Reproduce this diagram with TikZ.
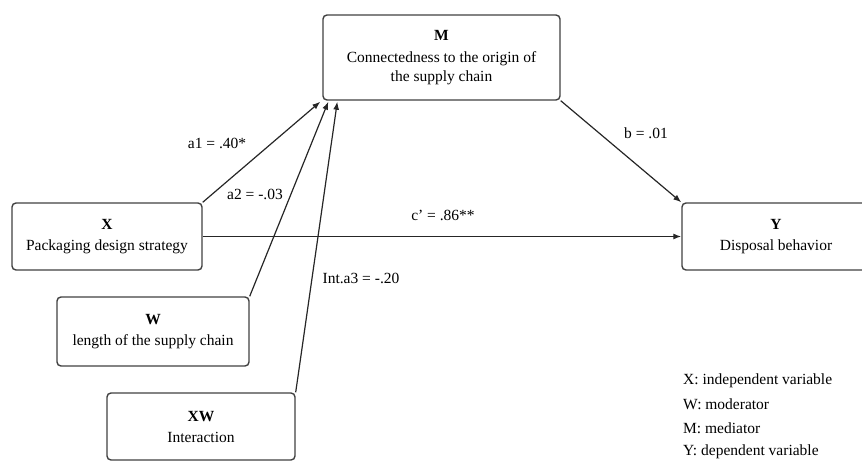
\documentclass[tikz,border=0pt]{standalone}
\usepackage{fontspec}
\setmainfont{Liberation Serif}
\usepackage{tikz}
\usetikzlibrary{arrows.meta,calc}

\tikzset{
  varbox/.style={draw=black!75, line width=1.4pt, rounded corners=4pt, align=center,
    inner sep=0pt, font=\fontsize{15.5}{19}\selectfont},
  effect/.style={draw=black!85, line width=1.2pt, -{Latex[length=8pt,width=6pt]}},
  coef/.style={inner sep=0pt, font=\fontsize{15.5}{18}\selectfont},
  legendtxt/.style={anchor=west, inner sep=0pt, font=\fontsize{15.5}{18}\selectfont}
}

\begin{document}
\begin{tikzpicture}[x=1pt,y=-1pt]

\useasboundingbox (0,0) rectangle (862,463);

  % Variables
  \node[varbox, minimum width=237pt, minimum height=85pt] (M) at (441.5,57.5)
    {\textbf{M}\\[3pt]Connectedness to the origin of\\the supply chain};
  \node[varbox, minimum width=190pt, minimum height=67pt] (X) at (107,236.5)
    {\textbf{X}\\[2pt]Packaging design strategy};
  \node[varbox, minimum width=188pt, minimum height=67pt] (Y) at (776,236.5)
    {\textbf{Y}\\[2pt]Disposal behavior};
  \node[varbox, minimum width=192pt, minimum height=69pt] (W) at (153,331.5)
    {\textbf{W}\\[2pt]length of the supply chain};
  \node[varbox, minimum width=188pt, minimum height=67pt] (XW) at (201,426.5)
    {\textbf{XW}\\[2pt]Interaction};

  % Arrow ends under M
  \coordinate (a1end) at ($(M.south west)+(-2,1)$);
  \coordinate (a2end) at ($(M.south west)+(6,1)$);
  \coordinate (a3end) at ($(M.south west)+(15,1)$);

  \draw[effect] (X.north east) -- (a1end);
  \draw[effect] (W.north east) -- (a2end);
  \draw[effect] (XW.north east) -- (a3end);
  \draw[effect] (X.east) -- (Y.west); % direct effect
  \draw[effect] (M.south east) -- (Y.north west);

  % Coefficients
  \node[coef] (a1) at (217,143) {a1 = .40*};
  \node[coef] (a2) at (255,194) {a2 = -.03};
  \node[coef] (a3) at (361,278) {Int.a3 = -.20};
  \node[coef] (cp) at (443,215) {c' = .86**};
  \node[coef] (b) at (646,133) {b = .01};

  % Legend
  \foreach \k/\txt in {0/X: independent variable, 1/W: moderator, 2/M: mediator, 3/Y: dependent variable}
  {
    \node[legendtxt] (leg\k) at (683,381+23.5*\k) {\txt};
  }

\end{tikzpicture}
\end{document}
